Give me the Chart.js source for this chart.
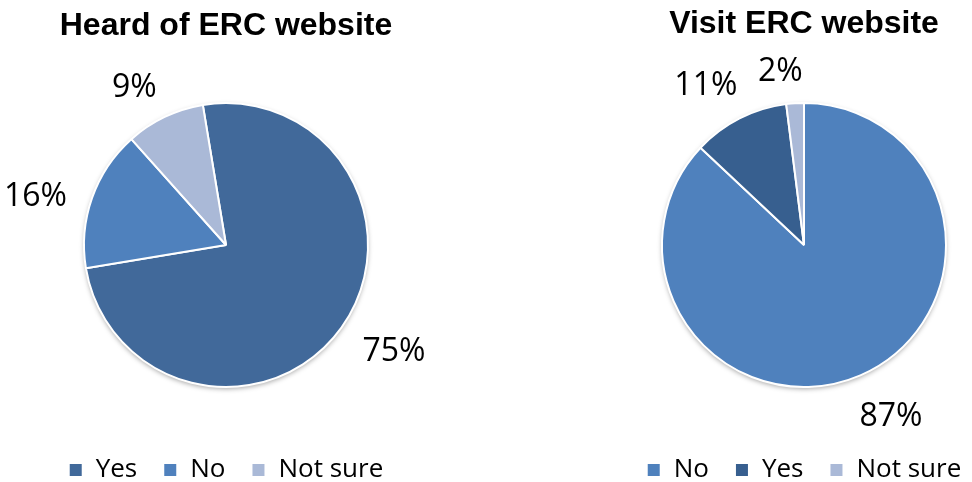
<!DOCTYPE html>
<html>
<head>
<meta charset="utf-8">
<script src="https://cdn.jsdelivr.net/npm/chart.js@4/dist/chart.umd.min.js"></script>
<style>
  html, body { margin: 0; padding: 0; background: #fff; overflow: hidden; }
  canvas { position: absolute; top: 0; }
  #heardChart { left: 0; }
  #visitChart { left: 604px; }
</style>
</head>
<body>
<canvas id="heardChart" width="452" height="493"></canvas>
<canvas id="visitChart" width="400" height="493"></canvas>
<script>
// survey answers, in percent
let heardLabels = ["Yes", "No", "Not sure"];
let heardValues = [75, 16, 9];
let heardColors = ["#41699a", "#4f81bd", "#aab9d7"];

let visitLabels = ["No", "Yes", "Not sure"];
let visitValues = [87, 11, 2];
let visitColors = ["#4f81bd", "#375f8f", "#aab9d7"];

// soft shadow behind the whole pie
const pieShadow = {
	id: "pieShadow",
	beforeDatasetsDraw(chart) {
		let arc = chart.getDatasetMeta(0).data[0];
		if (!arc) return;
		let ctx = chart.ctx;
		ctx.save();
		ctx.shadowColor = "rgba(0,0,0,0.35)";
		ctx.shadowBlur = 5;
		ctx.shadowOffsetY = 2;
		ctx.fillStyle = "#fff";
		ctx.beginPath();
		ctx.arc(arc.x, arc.y, arc.outerRadius, 0, Math.PI * 2);
		ctx.fill();
		ctx.restore();
	},
};

// percent labels outside each slice, nudged a little anticlockwise
const outsideLabels = {
	id: "outsideLabels",
	afterDatasetsDraw(chart) {
		let ctx = chart.ctx;
		let values = chart.data.datasets[0].data;
		ctx.save();
		ctx.font = "32px 'Open Sans'";
		ctx.fillStyle = "#000";
		ctx.textAlign = "center";
		ctx.textBaseline = "middle";
		chart.getDatasetMeta(0).data.forEach((arc, i) => {
			let p = arc.getProps(["x", "y", "startAngle", "endAngle", "outerRadius"], true);
			let mid = (p.startAngle + p.endAngle) / 2 - (4 * Math.PI) / 180;
			let txt = values[i] + "%";
			let w = ctx.measureText(txt).width;
			let h = 24;
			let cos = Math.cos(mid);
			let sin = Math.sin(mid);
			let dist = p.outerRadius + 22 + Math.abs(cos) * w / 2 + Math.abs(sin) * h / 2;
			ctx.fillText(txt, p.x + cos * dist, p.y + sin * dist + 4);
		});
		ctx.restore();
	},
};

function makePie(id, title, labels, values, colors, rotation, titleTop) {
	return new Chart(document.getElementById(id), {
		type: "pie",
		data: {
			labels: labels,
			datasets: [
				{
					data: values,
					backgroundColor: colors,
					borderColor: "#ffffff",
					borderWidth: 2,
					radius: 142,
				},
			],
		},
		options: {
			responsive: false,
			animation: false,
			rotation: rotation,
			plugins: {
				title: {
					display: true,
					text: title,
					color: "#000",
					font: { family: "Liberation Sans", weight: "bold", size: 32 },
					padding: { top: titleTop, bottom: 59 - titleTop - 38.4 },
				},
				legend: {
					position: "bottom",
					labels: {
						color: "#000",
						boxWidth: 14,
						boxHeight: 14,
						padding: 26,
						font: { family: "Open Sans", size: 26 },
					},
				},
				tooltip: { enabled: false },
			},
		},
		plugins: [pieShadow, outsideLabels],
	});
}

makePie("heardChart", "Heard of ERC website", heardLabels, heardValues, heardColors, -9.4, 7);
makePie("visitChart", "Visit ERC website", visitLabels, visitValues, visitColors, 0, 5);
</script>
</body>
</html>
